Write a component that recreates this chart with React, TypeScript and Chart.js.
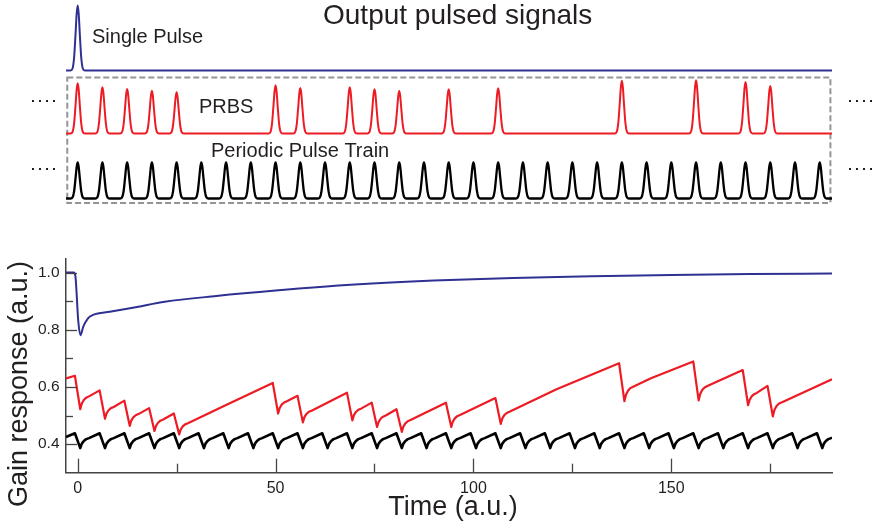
import React, { useEffect, useRef } from 'react';
import { Chart, registerables } from 'chart.js';

Chart.register(...registerables);

const FONT = '"Liberation Sans", Arial, Helvetica, sans-serif';
const TEXT_COLOR = '#231f20';
const AXIS_COLOR = '#444444';
const BLUE = '#2e3192';
const RED = '#ed1c24';
const BLACK = '#000000';
const BOX_GRAY = '#939598';

// ---------- shared time axis ----------
const X_MIN = -2.95;
const X_MAX = 190.6;
const X_TICKS = [0, 25, 50, 75, 100, 125, 150, 175];
const X_MAJOR = [0, 50, 100, 150];

// ---------- bottom panel: gain axis ----------
const Y_MIN = 0.3;
const Y_MAX = 1.05;
const Y_TICKS = [0.4, 0.5, 0.6, 0.7, 0.8, 0.9, 1.0];
const Y_MAJOR = [0.4, 0.6, 0.8, 1.0];

// ---------- top panel: pulse signals ----------
const TOP_Y_MIN = -0.458;
const TOP_Y_MAX = 5.514;
const SINGLE_BASE = 3.556;
const PRBS_BASE = 1.806;
const TRAIN_BASE = 0;

const SINGLE_TIMES = [0];
const SINGLE_AMPL = [1.806];

const PRBS_TIMES = [0, 6.25, 12.5, 18.75, 25, 50, 56.25, 68.75, 75, 81.25, 93.75, 106.25, 137.5, 156.25, 168.75, 175];
const PRBS_AMPL = [1.394, 1.283, 1.236, 1.189, 1.144, 1.339, 1.264, 1.283, 1.228, 1.181, 1.228, 1.256, 1.467, 1.478, 1.431, 1.319];

const TRAIN_TIMES = [
  0, 6.25, 12.5, 18.75, 25, 31.25, 37.5, 43.75, 50, 56.25, 62.5, 68.75, 75, 81.25, 87.5, 93.75,
  100, 106.25, 112.5, 118.75, 125, 131.25, 137.5, 143.75, 150, 156.25, 162.5, 168.75, 175, 181.25, 187.5,
];
const TRAIN_AMPL = [
  1, 1, 1, 1, 1, 1, 1, 1, 1, 1, 1, 1, 1, 1, 1, 1,
  1, 1, 1, 1, 1, 1, 1, 1, 1, 1, 1, 1, 1, 1, 1,
];

// shape of one optical pulse (time offset, fraction of peak)
const PULSE_SHAPE_DT = [-1.8, -1.3, -0.9, -0.55, -0.25, 0, 0.25, 0.55, 0.9, 1.3, 1.8];
const PULSE_SHAPE_F = [0, 0.03, 0.2, 0.55, 0.88, 1, 0.88, 0.55, 0.2, 0.03, 0];

// dashed frame around PRBS + periodic train
const BOX_T = [-2.63, 190.2];
const BOX_V = [-0.125, 3.361];

// ---------- gain responses ----------
const BLUE_GAIN_T = [-2.95, -1.0, -0.6, 0.15, 0.7, 1.4, 2.6, 3.9, 8.1, 15, 22, 35, 50, 70, 90, 110, 130, 150, 170, 190.6];
const BLUE_GAIN_V = [1.0, 1.0, 0.99, 0.83, 0.781, 0.81, 0.84, 0.852, 0.863, 0.88, 0.898, 0.918, 0.937, 0.958, 0.972, 0.981, 0.987, 0.992, 0.995, 0.997];

// timing of gain drop relative to each pulse, and fast-recovery shape after the dip
const PEAK_DT = -0.7;
const DIP_DT = 0.65;
const RECOVERY_DT = [0, 0.4, 0.9, 1.5, 2.2];
const RECOVERY_F = [0, 0.45, 0.72, 0.9, 1];

const RED_GAIN_START = 0.63;
const RED_GAIN_END = 0.627;
const RED_PEAK = [0.639, 0.588, 0.552, 0.526, 0.507, 0.614, 0.569, 0.58, 0.545, 0.522, 0.545, 0.561, 0.683, 0.689, 0.659, 0.604];
const RED_DIP = [0.522, 0.489, 0.464, 0.446, 0.434, 0.507, 0.476, 0.483, 0.46, 0.443, 0.46, 0.471, 0.55, 0.553, 0.536, 0.497];
const RED_KNEE = [0.567, 0.53, 0.505, 0.486, 0.473, 0.55, 0.517, 0.524, 0.5, 0.484, 0.502, 0.513, 0.601, 0.603, 0.579, 0.546];
const RED_MID_T = [37.5, 121, 145];
const RED_MID_V = [0.537, 0.592, 0.631];

const BLACK_GAIN_START = 0.425;
const BLACK_GAIN_END = 0.423;
const BLACK_PEAK = [
  0.438, 0.438, 0.438, 0.438, 0.438, 0.438, 0.438, 0.438, 0.438, 0.438, 0.438, 0.438, 0.438, 0.438, 0.438, 0.438,
  0.438, 0.438, 0.438, 0.438, 0.438, 0.438, 0.438, 0.438, 0.438, 0.438, 0.438, 0.438, 0.438, 0.438, 0.438,
];
const BLACK_DIP = [
  0.386, 0.386, 0.386, 0.386, 0.386, 0.386, 0.386, 0.386, 0.386, 0.386, 0.386, 0.386, 0.386, 0.386, 0.386, 0.386,
  0.386, 0.386, 0.386, 0.386, 0.386, 0.386, 0.386, 0.386, 0.386, 0.386, 0.386, 0.386, 0.386, 0.386, 0.386,
];
const BLACK_KNEE = [
  0.421, 0.421, 0.421, 0.421, 0.421, 0.421, 0.421, 0.421, 0.421, 0.421, 0.421, 0.421, 0.421, 0.421, 0.421, 0.421,
  0.421, 0.421, 0.421, 0.421, 0.421, 0.421, 0.421, 0.421, 0.421, 0.421, 0.421, 0.421, 0.421, 0.421, 0.421,
];

type P = { x: number; y: number };

function pulseTrace(times: number[], ampl: number[], base: number): P[] {
  const pts: P[] = [{ x: X_MIN, y: base }];
  times.forEach((t, i) => {
    PULSE_SHAPE_DT.forEach((dt, j) => {
      pts.push({ x: t + dt, y: base + ampl[i] * PULSE_SHAPE_F[j] });
    });
  });
  pts.push({ x: X_MAX, y: base });
  return pts;
}

function zipPts(ts: number[], vs: number[]): P[] {
  return ts.map((t, i) => ({ x: t, y: vs[i] }));
}

function gainTrace(
  times: number[], peak: number[], dip: number[], knee: number[],
  start: number, end: number, midT: number[], midV: number[],
): P[] {
  const pts: P[] = [{ x: X_MIN, y: start }];
  times.forEach((t, i) => {
    pts.push({ x: t + PEAK_DT, y: peak[i] });
    RECOVERY_DT.forEach((d, k) => {
      pts.push({ x: t + DIP_DT + d, y: dip[i] + (knee[i] - dip[i]) * RECOVERY_F[k] });
    });
  });
  midT.forEach((t, i) => pts.push({ x: t, y: midV[i] }));
  pts.push({ x: X_MAX, y: end });
  pts.sort((a, b) => a.x - b.x);
  return pts;
}

const lineDs = (label: string, data: P[], color: string, width: number, smooth: boolean) => ({
  label,
  data,
  borderColor: color,
  backgroundColor: color,
  borderWidth: width,
  pointRadius: 0,
  fill: false,
  tension: 0,
  cubicInterpolationMode: smooth ? ('monotone' as const) : ('default' as const),
  borderJoinStyle: 'round' as const,
});

const font = (size: number) => `${size}px ${FONT}`;

const topDecor = {
  id: 'topDecor',
  beforeDatasetsDraw(chart: any) {
    const { ctx, scales } = chart;
    const x0 = scales.x.getPixelForValue(BOX_T[0]);
    const x1 = scales.x.getPixelForValue(BOX_T[1]);
    const y0 = scales.y.getPixelForValue(BOX_V[1]);
    const y1 = scales.y.getPixelForValue(BOX_V[0]);
    ctx.save();
    ctx.strokeStyle = BOX_GRAY;
    ctx.lineWidth = 2;
    ctx.setLineDash([6, 3]);
    ctx.strokeRect(x0, y0, x1 - x0, y1 - y0);
    ctx.restore();
  },
  afterDraw(chart: any) {
    const { ctx } = chart;
    ctx.save();
    ctx.fillStyle = TEXT_COLOR;
    ctx.textBaseline = 'alphabetic';
    ctx.textAlign = 'left';
    ctx.font = font(28);
    ctx.fillText('Output pulsed signals', 323, 24);
    ctx.font = font(20);
    ctx.fillText('Single Pulse', 92, 43);
    ctx.fillText('PRBS', 199, 113);
    ctx.fillText('Periodic Pulse Train', 211, 157);
    // continuation dots
    const rows = [101, 169];
    const starts = [32, 849];
    rows.forEach((y) => {
      starts.forEach((sx) => {
        for (let k = 0; k < 4; k++) ctx.fillRect(sx + k * 7, y - 1, 2, 2);
      });
    });
    ctx.restore();
  },
};

const bottomDecor = {
  id: 'bottomDecor',
  afterDatasetsDraw(chart: any) {
    const { ctx, chartArea, scales } = chart;
    ctx.save();
    ctx.strokeStyle = AXIS_COLOR;
    ctx.lineWidth = 1.3;
    X_TICKS.forEach((v) => {
      const px = Math.round(scales.x.getPixelForValue(v)) + 0.5;
      const len = X_MAJOR.includes(v) ? 14 : 9;
      ctx.beginPath();
      ctx.moveTo(px, chartArea.bottom);
      ctx.lineTo(px, chartArea.bottom - len);
      ctx.stroke();
    });
    Y_TICKS.forEach((v) => {
      const py = Math.round(scales.y.getPixelForValue(v)) + 0.5;
      const len = Y_MAJOR.some((m) => Math.abs(m - v) < 1e-9) ? 11 : 7;
      ctx.beginPath();
      ctx.moveTo(chartArea.left, py);
      ctx.lineTo(chartArea.left + len, py);
      ctx.stroke();
    });
    ctx.restore();
  },
  afterDraw(chart: any) {
    const { ctx } = chart;
    ctx.save();
    ctx.fillStyle = TEXT_COLOR;
    ctx.font = font(27);
    ctx.textAlign = 'center';
    ctx.textBaseline = 'alphabetic';
    ctx.fillText('Time (a.u.)', 453, 300);
    ctx.translate(27, 169);
    ctx.rotate(-Math.PI / 2);
    ctx.fillText('Gain response (a.u.)', 0, 0);
    ctx.restore();
  },
};

export default function App() {
  const topRef = useRef<HTMLCanvasElement>(null);
  const botRef = useRef<HTMLCanvasElement>(null);

  useEffect(() => {
    Chart.defaults.font.family = FONT;
    Chart.defaults.color = TEXT_COLOR;

    const top = new Chart(topRef.current as HTMLCanvasElement, {
      type: 'line',
      data: {
        datasets: [
          lineDs('Single Pulse', pulseTrace(SINGLE_TIMES, SINGLE_AMPL, SINGLE_BASE), BLUE, 2, true),
          lineDs('PRBS', pulseTrace(PRBS_TIMES, PRBS_AMPL, PRBS_BASE), RED, 2, true),
          lineDs('Periodic Pulse Train', pulseTrace(TRAIN_TIMES, TRAIN_AMPL, TRAIN_BASE), BLACK, 2.3, true),
        ] as any,
      },
      options: {
        animation: false,
        responsive: true,
        maintainAspectRatio: false,
        layout: { padding: { left: 66, right: 43, top: 0, bottom: 0 } },
        plugins: { legend: { display: false }, tooltip: { enabled: false } },
        scales: {
          x: { type: 'linear', display: false, min: X_MIN, max: X_MAX },
          y: { type: 'linear', display: false, min: TOP_Y_MIN, max: TOP_Y_MAX },
        },
      },
      plugins: [topDecor],
    });

    const bot = new Chart(botRef.current as HTMLCanvasElement, {
      type: 'line',
      data: {
        datasets: [
          lineDs('Single pulse gain', zipPts(BLUE_GAIN_T, BLUE_GAIN_V), BLUE, 2, true),
          lineDs(
            'PRBS gain',
            gainTrace(PRBS_TIMES, RED_PEAK, RED_DIP, RED_KNEE, RED_GAIN_START, RED_GAIN_END, RED_MID_T, RED_MID_V),
            RED, 2.2, false,
          ),
          lineDs(
            'Periodic train gain',
            gainTrace(TRAIN_TIMES, BLACK_PEAK, BLACK_DIP, BLACK_KNEE, BLACK_GAIN_START, BLACK_GAIN_END, [], []),
            BLACK, 2.6, false,
          ),
        ] as any,
      },
      options: {
        animation: false,
        responsive: true,
        maintainAspectRatio: false,
        layout: { padding: { left: 0, right: 43, top: 43.3, bottom: 14.3 } },
        plugins: { legend: { display: false }, tooltip: { enabled: false } },
        scales: {
          x: {
            type: 'linear',
            position: 'bottom',
            min: X_MIN,
            max: X_MAX,
            grid: { display: false, drawTicks: false },
            border: { display: true, color: AXIS_COLOR, width: 1.5 },
            afterBuildTicks: (scale: any) => {
              scale.ticks = X_TICKS.map((v) => ({ value: v }));
            },
            afterFit: (scale: any) => {
              scale.height = 40;
            },
            ticks: {
              autoSkip: false,
              maxRotation: 0,
              padding: 6,
              font: { size: 16, family: FONT },
              color: TEXT_COLOR,
              callback: (v: any) => (X_MAJOR.includes(Number(v)) ? String(v) : ''),
            },
          },
          y: {
            type: 'linear',
            position: 'left',
            min: Y_MIN,
            max: Y_MAX,
            grid: { display: false, drawTicks: false },
            border: { display: true, color: AXIS_COLOR, width: 1.5 },
            afterBuildTicks: (scale: any) => {
              scale.ticks = Y_TICKS.map((v) => ({ value: v }));
            },
            afterFit: (scale: any) => {
              scale.width = 66;
            },
            ticks: {
              autoSkip: false,
              padding: 6.5,
              font: { size: 15.5, family: FONT },
              color: TEXT_COLOR,
              callback: (v: any) =>
                Y_MAJOR.some((m) => Math.abs(m - Number(v)) < 1e-9) ? Number(v).toFixed(1) : '',
            },
          },
        },
      },
      plugins: [bottomDecor],
    });

    return () => {
      top.destroy();
      bot.destroy();
    };
  }, []);

  return (
    <div style={{ position: 'absolute', left: 0, top: 0, width: 875, height: 527, background: '#ffffff' }}>
      <div style={{ position: 'absolute', left: 0, top: 0, width: 875, height: 215 }}>
        <canvas ref={topRef} />
      </div>
      <div style={{ position: 'absolute', left: 0, top: 215, width: 875, height: 312 }}>
        <canvas ref={botRef} />
      </div>
    </div>
  );
}
